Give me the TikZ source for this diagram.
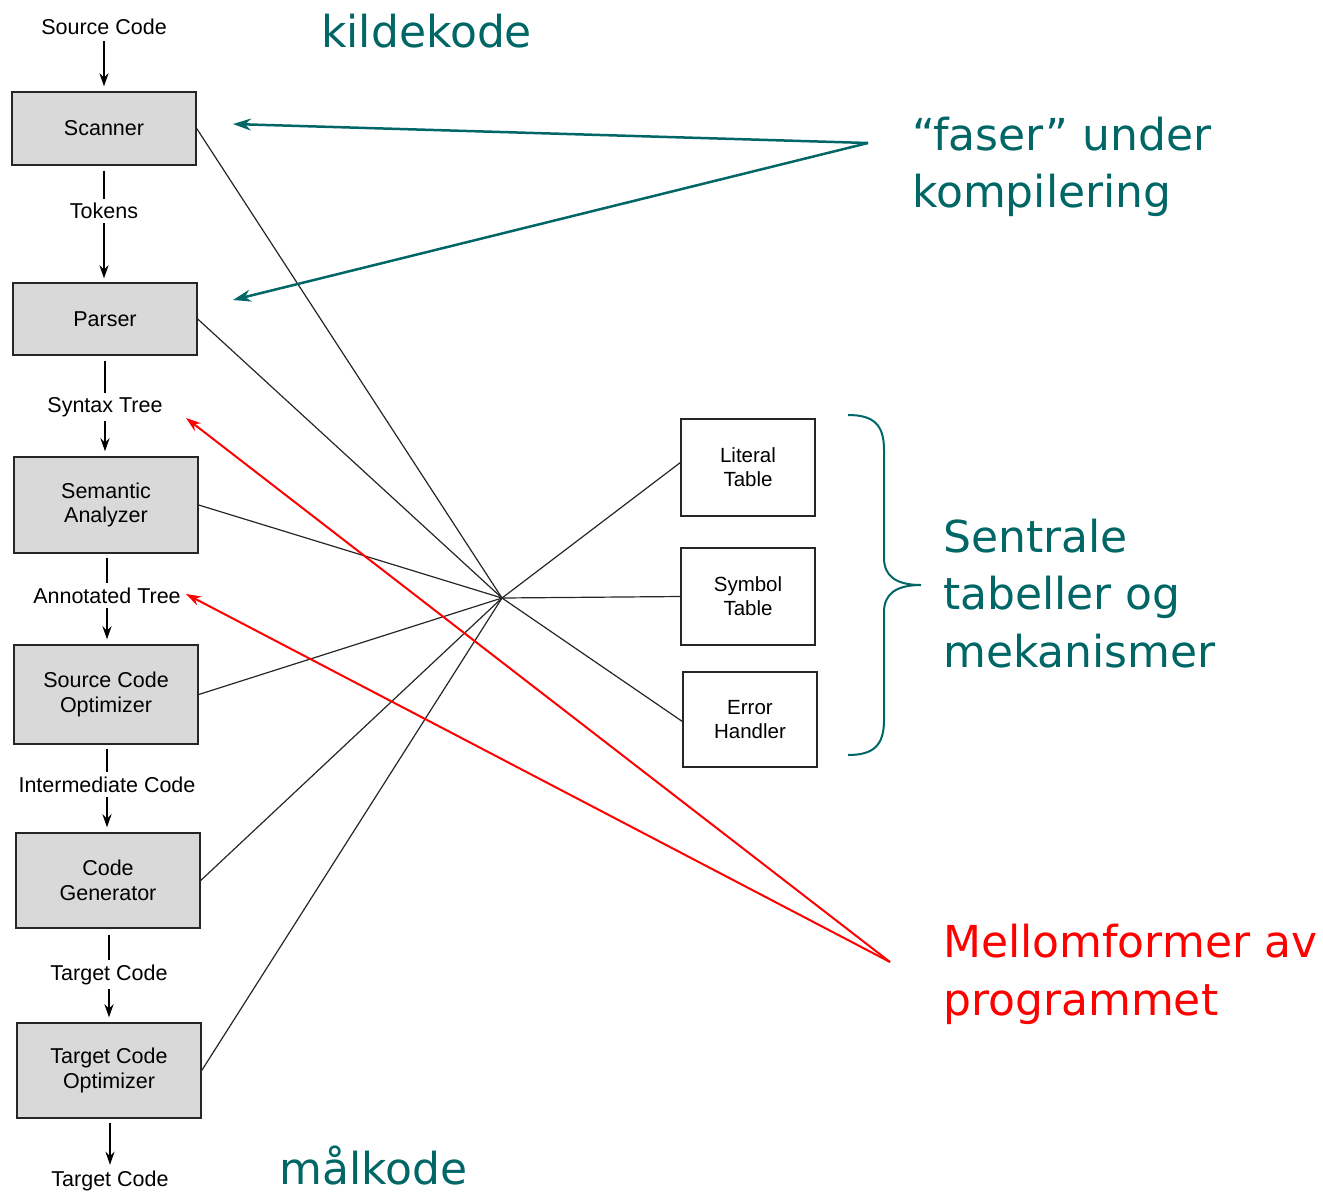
\documentclass[tikz,border=0pt]{standalone}
\usepackage{fontspec}
\setmainfont{Liberation Sans}
\newfontfamily\annfont{DejaVu Sans}
\usetikzlibrary{arrows.meta}
\definecolor{tealc}{RGB}{0,102,102}
\definecolor{redc}{RGB}{255,0,0}
\begin{document}
\begin{tikzpicture}[x=1bp,y=-1bp,
  phase/.style={draw=black!85, line width=1.4bp, fill=gray!30, minimum width=184bp, inner sep=0pt, align=center, font=\fontsize{21.5bp}{24.5bp}\selectfont},
  tbl/.style={draw=black!85, line width=1.2bp, fill=white, minimum width=134bp, inner sep=0pt, align=center, font=\fontsize{20.5bp}{24bp}\selectfont},
  lbl/.style={font=\fontsize{21.5bp}{24bp}\selectfont, inner sep=0pt},
  flow/.style={line width=2bp, -{Stealth[length=13bp,width=9bp]}},
  seg/.style={line width=2bp},
  link/.style={line width=1.2bp, black!85},
  ann/.style={font=\annfont\fontsize{44bp}{50bp}\selectfont, anchor=base west, inner sep=0pt},
  tealarrow/.style={tealc, line width=2.5bp, -{Stealth[length=18bp,width=12bp]}},
  redarrow/.style={redc, line width=2bp, -{Stealth[length=15bp,width=10bp]}},
]
\useasboundingbox (0,0) rectangle (1323,1194);

% phases
\node[phase, minimum height=73bp] (scanner) at (104,128.5) {Scanner};
\node[phase, minimum height=72bp] (parser) at (105,319) {Parser};
\node[phase, minimum height=96bp] (sem) at (106,505) {Semantic\\Analyzer};
\node[phase, minimum height=99bp] (sco) at (106,694.5) {Source Code\\Optimizer};
\node[phase, minimum height=95bp] (cg) at (108,880.5) {Code\\Generator};
\node[phase, minimum height=95bp] (tco) at (109,1070.5) {Target Code\\Optimizer};

% intermediate labels
\node[lbl] (src) at (104,27) {Source Code};
\node[lbl] (tok) at (104,211) {Tokens};
\node[lbl] (syn) at (105,407) {Syntax Tree};
\node[lbl] (ann) at (107,596) {Annotated Tree};
\node[lbl] (inter) at (107,785) {Intermediate Code};
\node[lbl] (tgt1) at (109,975) {Target Code};
\node[lbl] (tgt2) at (110,1181) {Target Code};

% flow
\draw[flow, shorten <=6bp, shorten >=5bp] (src.south) -- (src.south |- scanner.north);
\draw[seg, shorten <=5bp, shorten >=4bp] (tok.north |- scanner.south) -- (tok.north);
\draw[flow, shorten <=4bp, shorten >=4bp] (tok.south) -- (tok.south |- parser.north);
\draw[seg, shorten <=5bp, shorten >=4bp] (syn.north |- parser.south) -- (syn.north);
\draw[flow, shorten <=4bp, shorten >=5bp] (syn.south) -- (syn.south |- sem.north);
\draw[seg, shorten <=4bp, shorten >=5bp] (ann.north |- sem.south) -- (ann.north);
\draw[flow, shorten <=4bp, shorten >=5bp] (ann.south) -- (ann.south |- sco.north);
\draw[seg, shorten <=4bp, shorten >=5bp] (inter.north |- sco.south) -- (inter.north);
\draw[flow, shorten <=4bp, shorten >=5bp] (inter.south) -- (inter.south |- cg.north);
\draw[seg, shorten <=6bp, shorten >=5bp] (tgt1.north |- cg.south) -- (tgt1.north);
\draw[flow, shorten <=4bp, shorten >=5bp] (tgt1.south) -- (tgt1.south |- tco.north);
\draw[flow, shorten <=4bp, shorten >=6bp] (tgt2.north |- tco.south) -- (tgt2.north);

% tables
\node[tbl, minimum height=97bp] (lit) at (748,467.5) {Literal\\Table};
\node[tbl, minimum height=97bp] (sym) at (748,596.5) {Symbol\\Table};
\node[tbl, minimum height=95bp] (err) at (750,719.5) {Error\\Handler};

\coordinate (hub) at (502,598);
\foreach \n in {scanner,parser,sem,sco,cg,tco} \draw[link] (\n.east) -- (hub);
\draw[link] (hub) -- ([yshift=5bp]lit.west);
\draw[link] (hub) -- (sym.west);
\draw[link] (hub) -- ([yshift=-2bp]err.west);

% brace
\draw[tealc, line width=2bp] (848,415) .. controls (874,415) and (884,425) .. (884,450)
  -- (884,558) .. controls (884,576) and (896,585) .. (921,585)
  .. controls (896,585) and (884,594) .. (884,612)
  -- (884,720) .. controls (884,745) and (874,755) .. (848,755);

% annotations
\node[ann, text=tealc] (kilde) at (321,47) {kildekode};
\node[ann, text=tealc] (maal) at (279,1184) {målkode};
\node[ann, text=tealc] (faser1) at (912,150) {“faser” under};
\node[ann, text=tealc] (faser2) at (912,207) {kompilering};
\node[ann, text=tealc] (sent1) at (943,552) {Sentrale};
\node[ann, text=tealc] (sent2) at (943,609) {tabeller og};
\node[ann, text=tealc] (sent3) at (943,667) {mekanismer};
\node[ann, text=redc] (mell1) at (943,957) {Mellomformer av};
\node[ann, text=redc] (mell2) at (943,1015) {programmet};

\coordinate (fstart) at (868,143);
\coordinate (fscan) at (233,124);
\coordinate (fpars) at (233,300);
\draw[tealarrow] (fstart) -- (fscan);
\draw[tealarrow] (fstart) -- (fpars);

\coordinate (mstart) at (890,962);
\coordinate (msyn) at (186,418);
\coordinate (mann) at (186,594);
\draw[redarrow] (mstart) -- (msyn);
\draw[redarrow] (mstart) -- (mann);
\end{tikzpicture}
\end{document}
